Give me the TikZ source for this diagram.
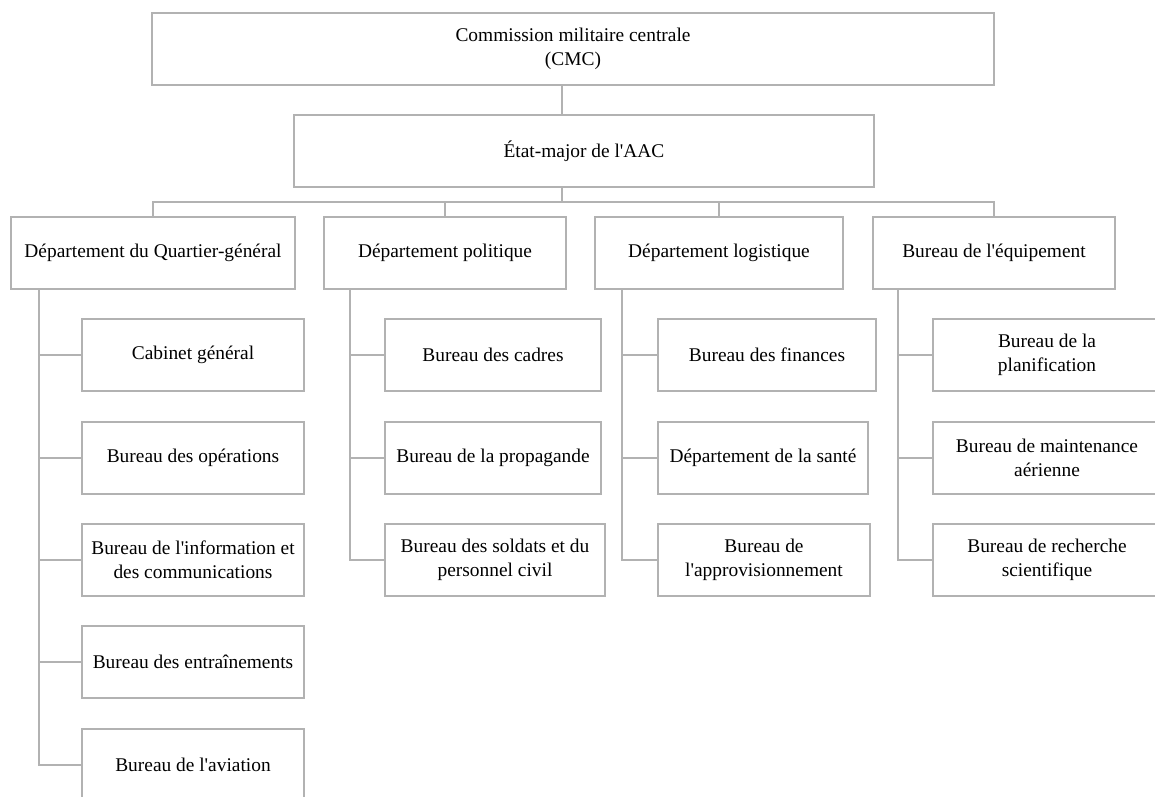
\documentclass[tikz,border=0pt]{standalone}
\usepackage{fontspec}
\setmainfont[Ligatures=TeXOff]{Liberation Serif}
\definecolor{linegray}{RGB}{178,178,178}
\begin{document}
\begin{tikzpicture}[x=1pt,y=-1pt,
  box/.style={draw=linegray, line width=1.9pt, fill=white, rectangle, inner sep=0pt,
    minimum height=72pt, align=center, font=\fontsize{19.4}{24}\selectfont},
  link/.style={draw=linegray, line width=1.9pt}]
\useasboundingbox (0,0) rectangle (1155,796);
\clip (0,0) rectangle (1155,796);
% top
\node[box, minimum width=842pt] (cmc) at (573,49) {Commission militaire centrale\\(CMC)};
\node[box, minimum width=580pt] (etat) at (584,151) {État-major de l'AAC};
% departments
\node[box, minimum width=284pt] (d1) at (153,253) {Département du Quartier-général};
\node[box, minimum width=242pt] (d2) at (445,253) {Département politique};
\node[box, minimum width=248pt] (d3) at (719,253) {Département logistique};
\node[box, minimum width=242pt] (d4) at (994,253) {Bureau de l'équipement};
% column 1
\node[box, minimum width=222pt] (a1) at (193,355) {Cabinet général};
\node[box, minimum width=222pt] (a2) at (193,458) {Bureau des opérations};
\node[box, minimum width=222pt] (a3) at (193,560) {Bureau de l'information et\\des communications};
\node[box, minimum width=222pt] (a4) at (193,662) {Bureau des entraînements};
\node[box, minimum width=222pt] (a5) at (193,765) {Bureau de l'aviation};
% column 2
\node[box, minimum width=216pt] (b1) at (493,355) {Bureau des cadres};
\node[box, minimum width=216pt] (b2) at (493,458) {Bureau de la propagande};
\node[box, minimum width=220pt] (b3) at (495,560) {Bureau des soldats et du\\personnel civil};
% column 3
\node[box, minimum width=218pt] (c1) at (767,355) {Bureau des finances};
\node[box, minimum width=210pt] (c2) at (763,458) {Département de la santé};
\node[box, minimum width=212pt] (c3) at (764,560) {Bureau de\\l'approvisionnement};
% column 4
\node[box, minimum width=228pt] (e1) at (1047,355) {Bureau de la\\planification};
\node[box, minimum width=228pt] (e2) at (1047,458) {Bureau de maintenance\\aérienne};
\node[box, minimum width=228pt] (e3) at (1047,560) {Bureau de recherche\\scientifique};
% helper coordinates
\coordinate (top) at (562,0);
\coordinate (bus) at (0,202);
\coordinate (v1) at (39,0);
\coordinate (v2) at (350,0);
\coordinate (v3) at (622,0);
\coordinate (v4) at (898,0);
% connectors
\draw[link] (cmc.south -| top) -- (etat.north -| top);
\draw[link] (etat.south -| top) -- (bus -| top);
\draw[link] (d1.north) |- (bus -| d4.north) -- (d4.north);
\draw[link] (d2.north) -- (bus -| d2.north);
\draw[link] (d3.north) -- (bus -| d3.north);
% column 1
\draw[link] (d1.south -| v1) |- (a5.west);
\draw[link] (a1.west -| v1) -- (a1.west);
\draw[link] (a2.west -| v1) -- (a2.west);
\draw[link] (a3.west -| v1) -- (a3.west);
\draw[link] (a4.west -| v1) -- (a4.west);
% column 2
\draw[link] (d2.south -| v2) |- (b3.west);
\draw[link] (b1.west -| v2) -- (b1.west);
\draw[link] (b2.west -| v2) -- (b2.west);
% column 3
\draw[link] (d3.south -| v3) |- (c3.west);
\draw[link] (c1.west -| v3) -- (c1.west);
\draw[link] (c2.west -| v3) -- (c2.west);
% column 4
\draw[link] (d4.south -| v4) |- (e3.west);
\draw[link] (e1.west -| v4) -- (e1.west);
\draw[link] (e2.west -| v4) -- (e2.west);
\end{tikzpicture}
\end{document}
